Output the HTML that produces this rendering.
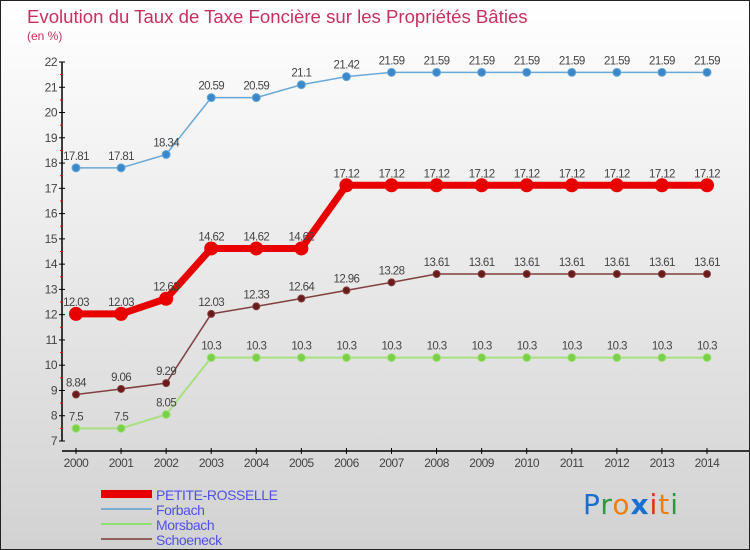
<!DOCTYPE html>
<html><head><meta charset="utf-8"><style>
body{margin:0}
#wrap{position:relative;width:750px;height:550px;background:linear-gradient(#ffffff,#d2d2d2);overflow:hidden;font-family:"Liberation Sans",sans-serif;box-sizing:border-box;border:1px solid #222}
.t{position:absolute;color:#c8305e}
</style></head><body>
<div id="wrap">
<div class="t" style="left:26px;top:5px;font-size:18.6px">Evolution du Taux de Taxe Foncière sur les Propriétés Bâties</div>
<div class="t" style="left:26px;top:28px;font-size:12px">(en %)</div>
<svg id="svg" width="750" height="550" style="position:absolute;left:0;top:0"></svg>
<div style="position:absolute;left:582px;top:487px;font-size:28px;font-family:'DejaVu Sans',sans-serif;letter-spacing:1px"><span style="color:#1a6fd0">P</span><span style="color:#2a9a3a">r</span><span style="color:#f07d10">o</span><span style="color:#1a6fd0;font-weight:bold">x</span><span style="color:#e03010">i</span><span style="color:#f07d10">t</span><span style="color:#2a9a3a">i</span></div>
</div>
<script>
const years=[2000,2001,2002,2003,2004,2005,2006,2007,2008,2009,2010,2011,2012,2013,2014];
const petite=[12.03,12.03,12.63,14.62,14.62,14.62,17.12,17.12,17.12,17.12,17.12,17.12,17.12,17.12,17.12];
const forbach=[17.81,17.81,18.34,20.59,20.59,21.1,21.42,21.59,21.59,21.59,21.59,21.59,21.59,21.59,21.59];
const morsbach=[7.5,7.5,8.05,10.3,10.3,10.3,10.3,10.3,10.3,10.3,10.3,10.3,10.3,10.3,10.3];
const schoeneck=[8.84,9.06,9.29,12.03,12.33,12.64,12.96,13.28,13.61,13.61,13.61,13.61,13.61,13.61,13.61];
const yTicks=[7,8,9,10,11,12,13,14,15,16,17,18,19,20,21,22];
const labels=["PETITE-ROSSELLE","Forbach","Morsbach","Schoeneck"];
const NS="http://www.w3.org/2000/svg",svg=document.getElementById('svg');
const x=i=>75+i*(706-75)/(years.length-1);
const y=v=>61+(22-v)*(440-61)/15;
function mk(t,a,p){const e=document.createElementNS(NS,t);for(const k in a)e.setAttribute(k,a[k]);(p||svg).appendChild(e);return e;}
let ya=mk('line',{x1:61,y1:61,x2:61,y2:440,stroke:'#000','stroke-width':1.5});


let xa=mk('line',{x1:61,y1:450,x2:750,y2:450,stroke:'#000','stroke-width':1.5});


yTicks.forEach(v=>{
 mk('line',{x1:58,y1:y(v),x2:64,y2:y(v),stroke:'#000'});
 if(v<22)mk('line',{x1:59,y1:y(v+0.5),x2:62,y2:y(v+0.5),stroke:'#e00'});
 const t=mk('text',{x:56,y:y(v)+4,'text-anchor':'end','font-size':12,fill:'#444','letter-spacing':'-0.5'});t.textContent=v;
 
 
});
years.forEach((yr,i)=>{
 mk('line',{x1:x(i),y1:447,x2:x(i),y2:453,stroke:'#000'});
 const t=mk('text',{x:x(i),y:466,'text-anchor':'middle','font-size':12,fill:'#444','letter-spacing':'-0.5'});t.textContent=yr;
 
 
});
function series(data,color,w,r,fill,name){
 const g=mk('g',{});
 
 
 mk('polyline',{points:data.map((v,i)=>x(i)+','+y(v)).join(' '),fill:'none',stroke:color,'stroke-width':w,'stroke-linejoin':'round'},g);
 data.forEach((v,i)=>{
  const c=mk('circle',{cx:x(i),cy:y(v),r:r,fill:fill,stroke:color,'stroke-width':1},g);
  
  
  const t=mk('text',{x:x(i),y:y(v)-8,'text-anchor':'middle','font-size':11.5,fill:'#444','letter-spacing':'-0.6'},g);t.textContent=v;
  
  
 });
}
series(morsbach,'#a8e080',2,4,'#7ad048','morsbach-series');
series(schoeneck,'#804040',1.5,3.5,'#6a1a1a','schoeneck-series');
series(forbach,'#6aa8d8',1.5,4,'#3a88c8','forbach-series');
series(petite,'#e80000',7,6.5,'#e80000','petite-rosselle-series');
const lc=['#e80000','#7aaed0','#90e070','#906060'],lw=[8,2,2,2];
labels.forEach((l,i)=>{
 const yy=493+i*15;
 const g=mk('g',{});
 
 
 mk('line',{x1:100,y1:yy,x2:151,y2:yy,stroke:lc[i],'stroke-width':lw[i]},g);
 const t=mk('text',{x:155,y:yy+6,'font-size':14,fill:'#5050e8','letter-spacing':'-0.4'},g);t.textContent=l;
});
</script>
</body></html>
